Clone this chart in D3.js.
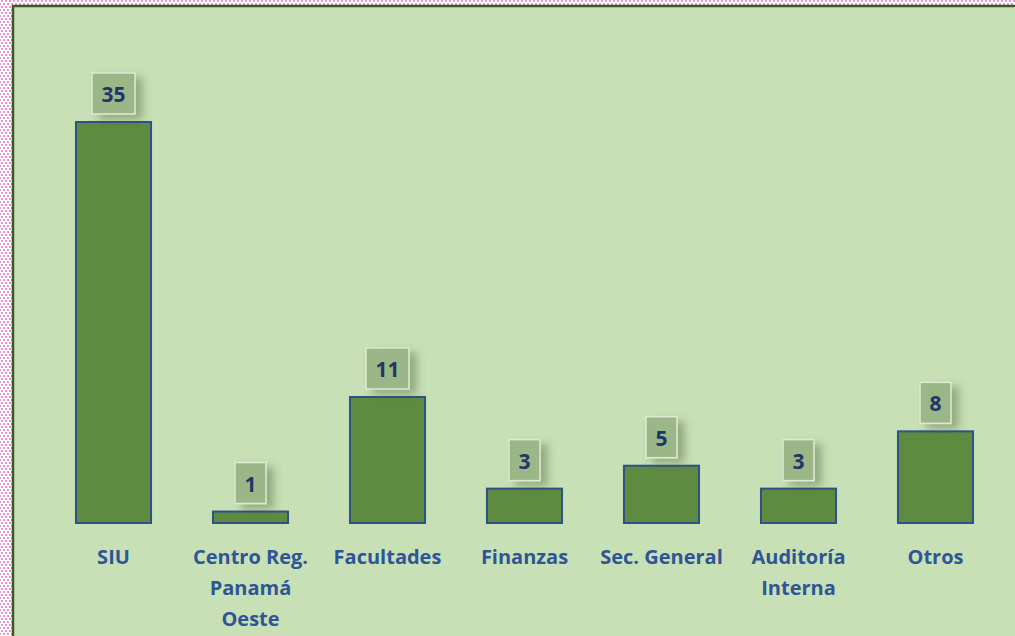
<!DOCTYPE html>
<html>
<head>
<meta charset="utf-8">
<script src="https://cdn.jsdelivr.net/npm/d3@7"></script>
<style>
  html, body { margin: 0; padding: 0; background: #fff; }
  svg { display: block; }
</style>
</head>
<body>
<div id="chart"></div>
<script>
"use strict";

// data
var categories = ["SIU", "Centro Reg. Panamá Oeste", "Facultades", "Finanzas", "Sec. General", "Auditoría Interna", "Otros"];
var labelLines = [["SIU"], ["Centro Reg.", "Panamá", "Oeste"], ["Facultades"], ["Finanzas"], ["Sec. General"], ["Auditoría", "Interna"], ["Otros"]];
var values = [35, 1, 11, 3, 5, 3, 8];

var width = 1015, height = 636;

var svg = d3.select("#chart")
  .append("svg")
  .attr("width", width)
  .attr("height", height);

var defs = svg.append("defs");

// pink dotted page edge
var pat = defs.append("pattern")
  .attr("id", "dots")
  .attr("width", 4).attr("height", 6)
  .attr("patternUnits", "userSpaceOnUse");
pat.append("rect").attr("width", 4).attr("height", 6).attr("fill", "#ffffff");
pat.append("rect").attr("x", 1).attr("y", 0).attr("width", 2).attr("height", 2)
  .attr("fill", "#f08fd4").attr("shape-rendering", "crispEdges");
pat.append("rect").attr("x", 3).attr("y", 3).attr("width", 1).attr("height", 2)
  .attr("fill", "#f08fd4").attr("shape-rendering", "crispEdges");
pat.append("rect").attr("x", 0).attr("y", 3).attr("width", 1).attr("height", 2)
  .attr("fill", "#f08fd4").attr("shape-rendering", "crispEdges");

var shadow = defs.append("filter")
  .attr("id", "shadow")
  .attr("x", "-50%").attr("y", "-50%")
  .attr("width", "220%").attr("height", "220%");
shadow.append("feDropShadow")
  .attr("dx", 7).attr("dy", 5)
  .attr("stdDeviation", 4)
  .attr("flood-color", "#3e5a2c")
  .attr("flood-opacity", 0.4);

svg.append("rect")
  .attr("width", width).attr("height", height)
  .attr("fill", "url(#dots)")
  .attr("shape-rendering", "crispEdges");

// chart area
svg.append("rect")
  .attr("x", 13).attr("y", 6)
  .attr("width", width + 10).attr("height", height + 10)
  .attr("fill", "#c8e0b6")
  .attr("stroke", "#3b5a24")
  .attr("stroke-width", 2.5);

// Scales
var x = d3.scaleBand()
  .domain(categories)
  .range([45, 1004])
  .paddingInner(0.452)
  .paddingOuter(0.226);

var y = d3.scaleLinear()
  .domain([0, 35])
  .range([523, 122]);

var bars = svg.selectAll(".bar")
  .data(values)
  .enter()
  .append("g")
  .attr("class", "bar");

bars.append("rect")
  .attr("x", function (d, i) { return x(categories[i]); })
  .attr("y", function (d) { return y(d); })
  .attr("width", x.bandwidth())
  .attr("height", function (d) { return y(0) - y(d); })
  .attr("fill", "#5f8b41")
  .attr("stroke", "#2e5189")
  .attr("stroke-width", 2);

// value label boxes
bars.each(function (d, i) {
  var g = d3.select(this);
  var cx = x(categories[i]) + x.bandwidth() / 2;
  var w = String(d).length > 1 ? 43 : 31;
  var top = y(d) - 49;
  g.append("rect")
    .attr("x", cx - w / 2)
    .attr("y", top)
    .attr("width", w)
    .attr("height", 41)
    .attr("fill", "#9cb787")
    .attr("stroke", "#dde9d2")
    .attr("stroke-width", 1.5)
    .attr("filter", "url(#shadow)");
  g.append("text")
    .attr("x", cx)
    .attr("y", top + 29)
    .attr("text-anchor", "middle")
    .attr("font-family", "'Open Sans', sans-serif")
    .attr("font-weight", "bold")
    .attr("font-size", 21)
    .attr("fill", "#1f3768")
    .text(d);
});

// category labels
var xAxis = svg.append("g");
labelLines.forEach(function (lines, i) {
  var t = xAxis.append("text")
    .attr("x", x(categories[i]) + x.bandwidth() / 2)
    .attr("y", 564)
    .attr("text-anchor", "middle")
    .attr("font-family", "'Open Sans', sans-serif")
    .attr("font-weight", "bold")
    .attr("font-size", 20)
    .attr("fill", "#2f5597");
  lines.forEach(function (line, j) {
    t.append("tspan")
      .attr("x", x(categories[i]) + x.bandwidth() / 2)
      .attr("dy", j === 0 ? 0 : 31)
      .text(line);
  });
});
</script>
</body>
</html>
